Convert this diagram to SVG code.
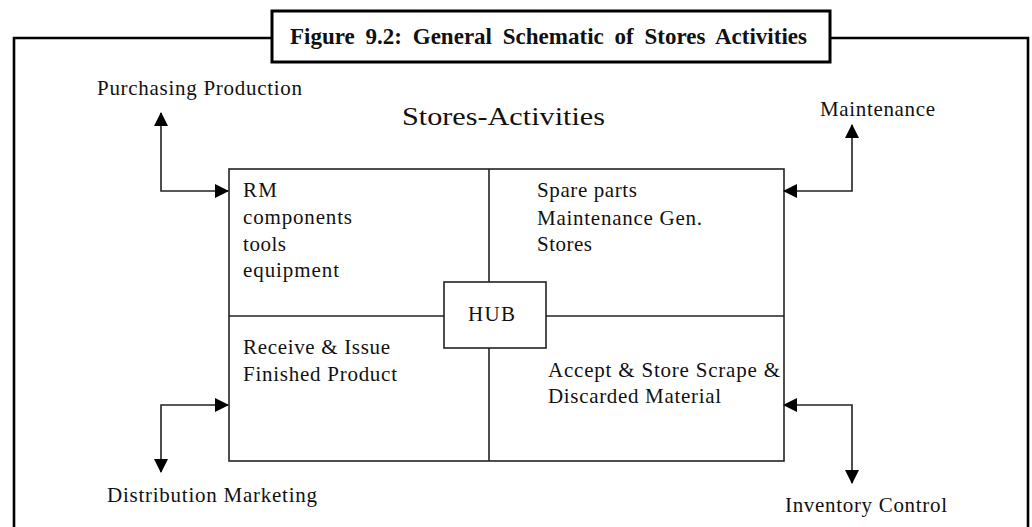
<svg xmlns="http://www.w3.org/2000/svg" width="1032" height="527" viewBox="0 0 1032 527">
<style>
.t{font-family:"Liberation Serif","Times New Roman",serif;font-size:21px;fill:#111}
.ln{stroke:#222;stroke-width:1.6;fill:none}
.fr{stroke:#000;stroke-width:2.6;fill:none}
</style>
<defs>
<marker id="ah" viewBox="0 0 14 14" refX="13" refY="7" markerWidth="14" markerHeight="14" markerUnits="userSpaceOnUse" orient="auto-start-reverse">
<path d="M0,0 L14,7 L0,14 Z" fill="#000"/>
</marker>
</defs>
<rect width="1032" height="527" fill="#fff"/>
<g id="frame">
<path class="fr" d="M14,527 V38 H272 M830,38 H1028 V527"/>
</g>
<g id="title">
<rect x="272" y="11" width="558" height="51" fill="#fff" stroke="#000" stroke-width="3"/>
<text x="290" y="44" font-family="'Liberation Serif','DejaVu Serif',serif" font-weight="bold" font-size="23" word-spacing="5" textLength="517" lengthAdjust="spacing" fill="#111">Figure 9.2: General Schematic of Stores Activities</text>
</g>
<g id="heading">
<text class="t" x="402" y="125" style="font-size:26px" textLength="203" lengthAdjust="spacingAndGlyphs">Stores-Activities</text>
</g>
<g id="main-box">
<rect x="229" y="169" width="555" height="292" class="ln"/>
<line class="ln" x1="489" y1="169" x2="489" y2="282"/>
<line class="ln" x1="489" y1="348" x2="489" y2="461"/>
<line class="ln" x1="229" y1="316" x2="444" y2="316"/>
<line class="ln" x1="546" y1="316" x2="784" y2="316"/>
</g>
<g id="quad-rm">
<text class="t" x="243" y="197" textLength="34" lengthAdjust="spacing">RM</text>
<text class="t" x="243" y="224" textLength="109" lengthAdjust="spacing">components</text>
<text class="t" x="243" y="251" textLength="43" lengthAdjust="spacing">tools</text>
<text class="t" x="243" y="277" textLength="96" lengthAdjust="spacing">equipment</text>
</g>
<g id="quad-spare">
<text class="t" x="537" y="197" textLength="100" lengthAdjust="spacing">Spare parts</text>
<text class="t" x="537" y="225" textLength="165" lengthAdjust="spacing">Maintenance Gen.</text>
<text class="t" x="537" y="251" textLength="55" lengthAdjust="spacing">Stores</text>
</g>
<g id="quad-receive">
<text class="t" x="243" y="354" textLength="147" lengthAdjust="spacing">Receive &amp; Issue</text>
<text class="t" x="243" y="381" textLength="154" lengthAdjust="spacing">Finished Product</text>
</g>
<g id="quad-accept">
<text class="t" x="548" y="377" textLength="232" lengthAdjust="spacing">Accept &amp; Store Scrape &amp;</text>
<text class="t" x="548" y="403" textLength="173" lengthAdjust="spacing">Discarded Material</text>
</g>
<g id="hub">
<rect x="444" y="282" width="102" height="66" fill="#fff" class="ln"/>
<text class="t" x="468" y="321" textLength="47" lengthAdjust="spacing">HUB</text>
</g>
<g id="labels">
<text class="t" x="97" y="95" textLength="205" lengthAdjust="spacing">Purchasing Production</text>
<text class="t" x="820" y="116" textLength="115" lengthAdjust="spacing">Maintenance</text>
<text class="t" x="107" y="502" textLength="210" lengthAdjust="spacing">Distribution Marketing</text>
<text class="t" x="785" y="512" textLength="162" lengthAdjust="spacing">Inventory Control</text>
</g>
<g id="connectors">
<path class="ln" d="M161,113 V191 H228" marker-start="url(#ah)" marker-end="url(#ah)"/>
<path class="ln" d="M852,125 V191 H784" marker-start="url(#ah)" marker-end="url(#ah)"/>
<path class="ln" d="M228,405 H161 V472" marker-start="url(#ah)" marker-end="url(#ah)"/>
<path class="ln" d="M784,405 H852 V483" marker-start="url(#ah)" marker-end="url(#ah)"/>
</g>
</svg>
